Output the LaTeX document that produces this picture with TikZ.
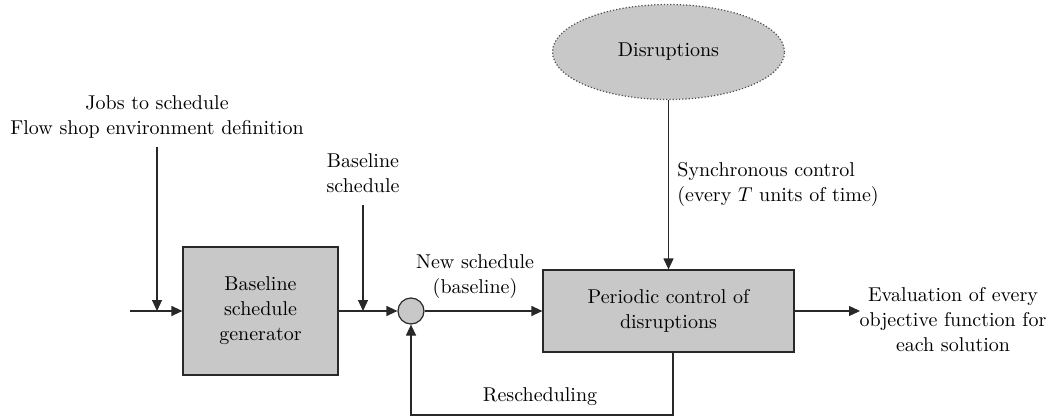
\documentclass[tikz,border=0pt]{standalone}
\usetikzlibrary{calc,shapes.geometric,arrows.meta}
\definecolor{boxgray}{RGB}{200,200,201}
\definecolor{linegray}{RGB}{40,40,40}

\begin{document}
\begin{tikzpicture}[x=0.5pt,y=-0.5pt,font=\fontsize{10}{12.5}\selectfont]
%styles
\tikzstyle{textLine}=[rectangle, text=black, align=center, inner sep=0pt]
\tikzstyle{block}=[rectangle, draw=linegray, fill=boxgray, line width=0.6pt, align=center]
\tikzstyle{vector}=[-{Triangle[length=5.5pt,width=5pt]}, line width=0.6pt, draw=linegray]
%figure
\useasboundingbox (0,0) rectangle (1059,417);

%blocks
\node[block, minimum width=77.5pt, minimum height=64pt] (gen) at (260.5,311) {Baseline\\schedule\\generator};
\node[block, minimum width=125.5pt, minimum height=41pt] (ctrl) at (668.5,311) {Periodic control of\\disruptions};
\node[ellipse, draw=black!70, densely dotted, fill=boxgray, line width=0.6pt,
      minimum width=116pt, minimum height=47.5pt] (dis) at (668.5,52) {Disruptions};
\node[circle, draw=linegray, fill=boxgray, line width=0.6pt, minimum size=13pt, inner sep=0pt] (sum) at (411,311) {};

%text
\node[textLine] (jobs) at (157,117) {Jobs to schedule\\Flow shop environment definition};
\node[textLine] (base) at (363,173) {Baseline\\schedule};
\node[textLine] (new) at (475,277) {New schedule\\(baseline)};
\node[textLine, anchor=west, align=left] (sync) at (677,184) {Synchronous control\\(every $T$ units of time)};
\node[textLine] (eval) at (953,320) {Evaluation of every\\objective function for\\each solution};
\node[textLine] (resch) at (540,397) {Rescheduling};

\coordinate (in) at (130,311);
\coordinate (jobstop) at (157,147);
\coordinate (jobsend) at (157,311);
\coordinate (basetop) at (363,205);
\coordinate (baseend) at (363,311);
\coordinate (out) at (860,311);
\coordinate (fb) at (673,352);
\coordinate (fbcorner) at (411,415);

%vectors
\draw[vector] (in) -- (gen.west);
\draw[vector] (jobstop) -- (jobsend);
\draw[vector] (gen.east) -- (sum.west);
\draw[vector] (basetop) -- (baseend);
\draw[vector] (sum.east) -- (ctrl.west);
\draw[vector] (dis.south) -- (ctrl.north);
\draw[vector] (ctrl.east) -- (out);
\draw[vector] (fb) |- (fbcorner) -- (sum.south);

\end{tikzpicture}
\end{document}
